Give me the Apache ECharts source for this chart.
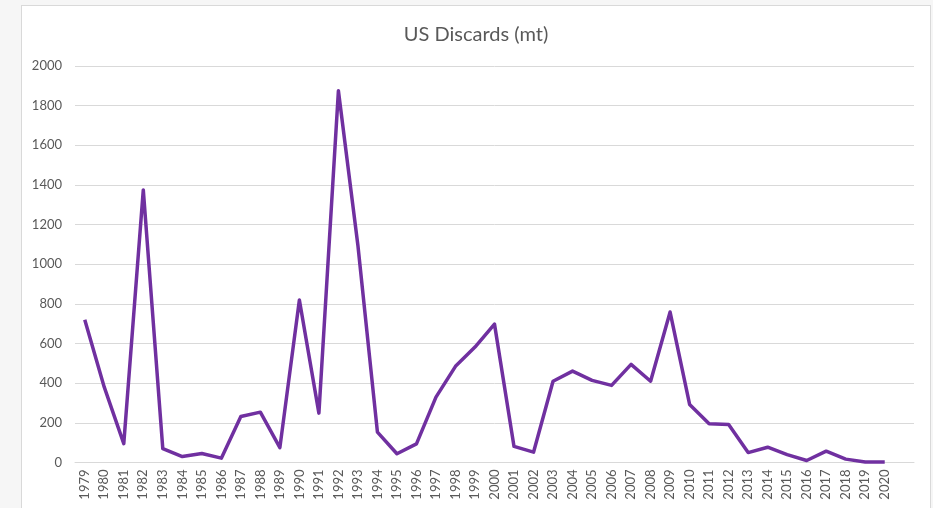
<!DOCTYPE html>
<html>
<head>
<meta charset="utf-8">
<script src="https://cdn.jsdelivr.net/npm/echarts@6/dist/echarts.min.js"></script>
<style>
  html, body { margin: 0; padding: 0; background: #f6f6f6; overflow: hidden; }
  .box { position: absolute; left: 21px; top: 5px; width: 908px; height: 520px;
         background: #fff; border: 1px solid #d9d9d9; }
  #chart { width: 908px; height: 520px; }
</style>
</head>
<body>
<div class="box"><div id="chart"></div></div>
<script>
// years shown on the x axis
var years = ['1979','1980','1981','1982','1983','1984','1985','1986','1987','1988',
  '1989','1990','1991','1992','1993','1994','1995','1996','1997','1998',
  '1999','2000','2001','2002','2003','2004','2005','2006','2007','2008',
  '2009','2010','2011','2012','2013','2014','2015','2016','2017','2018',
  '2019','2020'];

// discards in metric tons
var discards = [720, 380, 95, 1375, 70, 30, 45, 22, 232, 254,
  75, 820, 249, 1875, 1095, 153, 44, 94, 330, 485,
  582, 698, 81, 52, 410, 461, 414, 389, 495, 410,
  759, 293, 195, 192, 50, 77, 40, 10, 57, 17,
  3, 2];

var yTicks = { min: 0, max: 2000, interval: 200 };

// empty slot at the end, the plot area in the original has one more category width
var cats = years.concat(['']);
var vals = discards.concat(['-']);

var myChart = echarts.init(document.getElementById('chart'));

var option = {
  animation: false,
  title: {
    text: 'US Discards (mt)',
    left: 'center',
    top: 14,
    textStyle: { fontFamily: 'Lato', fontSize: 20, fontWeight: 'normal', color: '#595959' }
  },
  grid: { left: 53, right: 16, top: 60, height: 396.5 },
  xAxis: {
    type: 'category',
    data: cats,
    boundaryGap: true,
    axisLine: { lineStyle: { color: '#d9d9d9' } },
    axisTick: { show: false },
    axisLabel: { rotate: 90, margin: 7, interval: 0, fontFamily: 'Lato', fontSize: 13, color: '#595959' }
  },
  yAxis: {
    type: 'value',
    min: yTicks.min,
    max: yTicks.max,
    interval: yTicks.interval,
    axisLine: { show: false },
    axisTick: { show: false },
    splitLine: { lineStyle: { color: '#d9d9d9' } },
    axisLabel: {
      margin: 13, fontFamily: 'Lato', fontSize: 13, color: '#595959',
      formatter: function (v) { return String(v); }
    }
  },
  series: [{
    name: 'US Discards',
    type: 'line',
    data: vals,
    symbol: 'none',
    lineStyle: { color: '#7030a0', width: 3.5, join: 'round' },
    itemStyle: { color: '#7030a0' }
  }]
};

myChart.setOption(option);
</script>
</body>
</html>
